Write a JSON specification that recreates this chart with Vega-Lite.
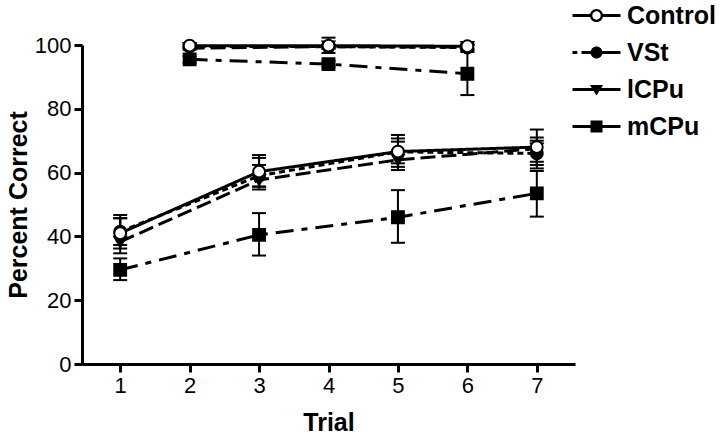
{
  "$schema": "https://vega.github.io/schema/vega-lite/v6.json",
  "width": 493,
  "height": 319,
  "autosize": "none",
  "padding": {"left": 82, "top": 45, "right": 145, "bottom": 73},
  "background": "white",
  "config": {
    "view": {"stroke": null},
    "font": "Liberation Sans",
    "axis": {
      "grid": false,
      "ticks": true,
      "tickColor": "black",
      "tickWidth": 3,
      "tickSize": 8,
      "tickOpacity": 1,
      "domainColor": "black",
      "domainWidth": 3,
      "labelFont": "Liberation Sans",
      "labelFontSize": 22,
      "labelColor": "black",
      "labelPadding": 3,
      "titleFont": "Liberation Sans",
      "titleFontSize": 25,
      "titleFontWeight": "bold",
      "titleColor": "black"
    }
  },
  "data": {
    "values": [
      {"group": "mCPu", "phase": "A", "trial": 1, "pct": 29.5, "lo": 26.3, "hi": 33.1},
      {"group": "mCPu", "phase": "A", "trial": 3, "pct": 40.5, "lo": 34.0, "hi": 47.3},
      {"group": "mCPu", "phase": "A", "trial": 5, "pct": 46.0, "lo": 38.0, "hi": 54.5},
      {"group": "mCPu", "phase": "A", "trial": 7, "pct": 53.5, "lo": 46.2, "hi": 60.5},
      {"group": "mCPu", "phase": "B", "trial": 2, "pct": 95.5, "lo": 94.5, "hi": 96.5},
      {"group": "mCPu", "phase": "B", "trial": 4, "pct": 94.0, "lo": 93.0, "hi": 95.0},
      {"group": "mCPu", "phase": "B", "trial": 6, "pct": 91.0, "lo": 84.3, "hi": 97.8},
      {"group": "lCPu", "phase": "A", "trial": 1, "pct": 38.3, "lo": 34.7, "hi": 45.7},
      {"group": "lCPu", "phase": "A", "trial": 3, "pct": 57.7, "lo": 54.7, "hi": 62.4},
      {"group": "lCPu", "phase": "A", "trial": 5, "pct": 64.0, "lo": 60.8, "hi": 69.7},
      {"group": "lCPu", "phase": "A", "trial": 7, "pct": 67.5, "lo": 61.3, "hi": 71.0},
      {"group": "lCPu", "phase": "B", "trial": 2, "pct": 99.0, "lo": 98.5, "hi": 99.5},
      {"group": "lCPu", "phase": "B", "trial": 4, "pct": 99.5, "lo": 99.0, "hi": 100.0},
      {"group": "lCPu", "phase": "B", "trial": 6, "pct": 99.3, "lo": 98.5, "hi": 100.0},
      {"group": "VSt", "phase": "A", "trial": 1, "pct": 41.5, "lo": 36.2, "hi": 45.7},
      {"group": "VSt", "phase": "A", "trial": 3, "pct": 59.0, "lo": 55.6, "hi": 64.6},
      {"group": "VSt", "phase": "A", "trial": 5, "pct": 66.5, "lo": 61.8, "hi": 70.7},
      {"group": "VSt", "phase": "A", "trial": 7, "pct": 66.0, "lo": 62.4, "hi": 70.0},
      {"group": "VSt", "phase": "B", "trial": 2, "pct": 99.5, "lo": 99.0, "hi": 100.0},
      {"group": "VSt", "phase": "B", "trial": 4, "pct": 99.5, "lo": 98.8, "hi": 100.2},
      {"group": "VSt", "phase": "B", "trial": 6, "pct": 99.2, "lo": 98.3, "hi": 100.1},
      {"group": "Control", "phase": "A", "trial": 1, "pct": 41.0, "lo": 37.3, "hi": 46.7},
      {"group": "Control", "phase": "A", "trial": 3, "pct": 60.3, "lo": 55.6, "hi": 65.5},
      {"group": "Control", "phase": "A", "trial": 5, "pct": 66.6, "lo": 62.9, "hi": 71.8},
      {"group": "Control", "phase": "A", "trial": 7, "pct": 68.0, "lo": 63.4, "hi": 73.5},
      {"group": "Control", "phase": "B", "trial": 2, "pct": 99.8, "lo": 99.0, "hi": 100.6},
      {"group": "Control", "phase": "B", "trial": 4, "pct": 99.8, "lo": 97.5, "hi": 102.3},
      {"group": "Control", "phase": "B", "trial": 6, "pct": 99.6, "lo": 98.8, "hi": 100.4}
    ]
  },
  "layer": [
    {
      "mark": {"type": "line", "color": "black", "strokeWidth": 3, "clip": false},
      "encoding": {
        "x": {
          "field": "trial", "type": "quantitative", "title": "Trial",
          "scale": {"domain": [0.45, 7.55], "nice": false, "zero": false},
          "axis": {
            "values": [1, 2, 3, 4, 5, 6, 7], "format": "d", "titlePadding": 14,
            "ticks": true, "tickSize": 8, "tickColor": "black", "tickWidth": 3,
            "tickOpacity": 1, "tickDash": [], "tickCap": "butt", "tickOffset": 0, "zindex": 1
          }
        },
        "y": {
          "field": "pct", "type": "quantitative", "title": "Percent Correct",
          "scale": {"domain": [0, 100], "nice": false},
          "axis": {
            "values": [0, 5, 10, 15, 20, 25, 30, 35, 40, 45, 50, 55, 60, 65, 70, 75, 80, 85, 90, 95, 100],
            "labelExpr": "datum.value % 20 === 0 ? datum.label : ''",
            "titlePadding": 3,
            "ticks": true, "tickSize": 8, "tickColor": "black", "tickWidth": 3,
            "tickOpacity": 1, "tickDash": [], "tickCap": "butt", "tickOffset": 0, "zindex": 1
          }
        },
        "strokeDash": {
          "field": "group", "type": "nominal",
          "scale": {
            "domain": ["Control", "VSt", "lCPu", "mCPu"],
            "range": [[1, 0], [6, 4], [15, 6], [18, 8, 6, 8]]
          },
          "legend": null
        },
        "detail": {"field": "phase"}
      }
    },
    {
      "mark": {"type": "rule", "color": "black", "strokeWidth": 2, "clip": false},
      "encoding": {
        "x": {"field": "trial", "type": "quantitative"},
        "y": {"field": "lo", "type": "quantitative"},
        "y2": {"field": "hi"}
      }
    },
    {
      "mark": {"type": "tick", "orient": "horizontal", "color": "black", "size": 14, "thickness": 2, "opacity": 1, "clip": false},
      "encoding": {
        "x": {"field": "trial", "type": "quantitative"},
        "y": {"field": "lo", "type": "quantitative"}
      }
    },
    {
      "mark": {"type": "tick", "orient": "horizontal", "color": "black", "size": 14, "thickness": 2, "opacity": 1, "clip": false},
      "encoding": {
        "x": {"field": "trial", "type": "quantitative"},
        "y": {"field": "hi", "type": "quantitative"}
      }
    },
    {
      "mark": {"type": "point", "filled": true, "size": 140, "stroke": "black", "strokeWidth": 2, "opacity": 1, "clip": false},
      "encoding": {
        "x": {"field": "trial", "type": "quantitative"},
        "y": {"field": "pct", "type": "quantitative"},
        "shape": {
          "field": "group", "type": "nominal",
          "scale": {
            "domain": ["Control", "VSt", "lCPu", "mCPu"],
            "range": ["circle", "circle", "triangle-down", "square"]
          },
          "legend": null
        },
        "fill": {
          "field": "group", "type": "nominal",
          "scale": {
            "domain": ["Control", "VSt", "lCPu", "mCPu"],
            "range": ["white", "black", "black", "black"]
          },
          "legend": null
        }
      }
    },
    {
      "mark": {"type": "point", "filled": true, "size": 0, "color": "black", "opacity": 1},
      "encoding": {
        "x": {"field": "trial", "type": "quantitative"},
        "y": {"field": "pct", "type": "quantitative"},
        "shape": {
          "field": "group", "type": "nominal",
          "scale": {
            "domain": ["Control", "VSt", "lCPu", "mCPu"],
            "range": [
              "M-4,-0.25H-1V0.25H-4ZM1,-0.25H4V0.25H1ZM1.1,0A1.1,1.1 0 1,1 -1.1,0A1.1,1.1 0 1,1 1.1,0ZM0.7,0A0.7,0.7 0 1,0 -0.7,0A0.7,0.7 0 1,0 0.7,0Z",
              "M-4,-0.25H-3.2V0.25H-4ZM-2.5,-0.25H4V0.25H-2.5ZM1,0A1,1 0 1,1 -1,0A1,1 0 1,1 1,0Z",
              "M-4,-0.25H4V0.25H-4ZM-1.1,-0.75H1.1L0,1Z",
              "M-4,-0.25H4V0.25H-4ZM-1,-1H1V1H-1Z"
            ]
          },
          "legend": {
            "title": null,
            "orient": "none",
            "legendX": 502,
            "legendY": -42,
            "symbolSize": 144,
            "symbolStrokeWidth": 0,
            "symbolFillColor": "black",
            "labelFont": "Liberation Sans",
            "labelFontSize": 25,
            "labelFontWeight": "bold",
            "labelColor": "black",
            "labelOffset": 18,
            "rowPadding": 11
          }
        }
      }
    }
  ],
  "resolve": {"scale": {"shape": "independent"}}
}
